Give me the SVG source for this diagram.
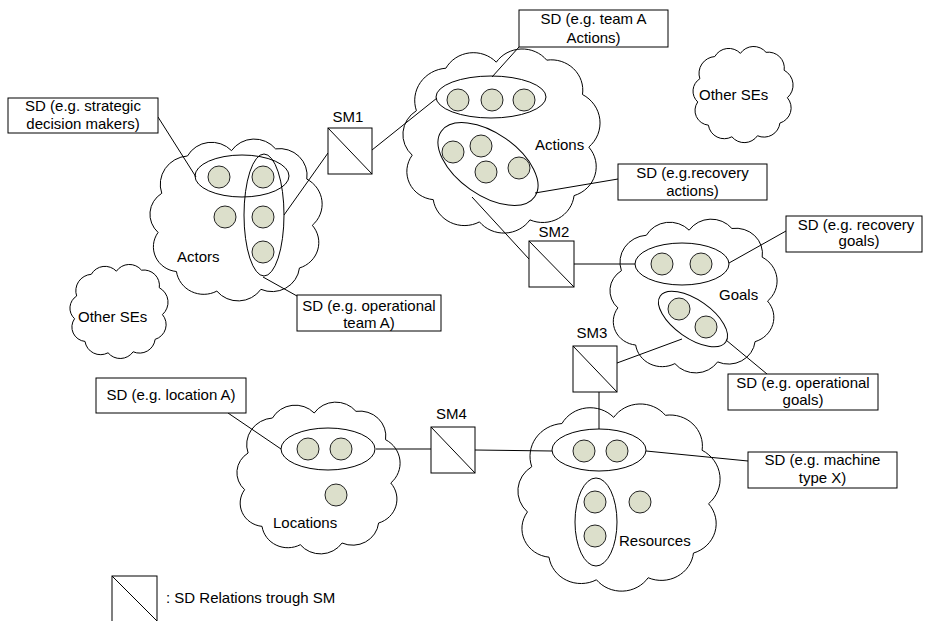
<svg xmlns="http://www.w3.org/2000/svg" width="927" height="621" viewBox="0 0 927 621">
<style>
.c{fill:#fff;stroke:#000;stroke-width:1}
.e{fill:none;stroke:#000;stroke-width:1}
.d{fill:#dcdfcb;stroke:#222;stroke-width:1}
.b{fill:#fff;stroke:#000;stroke-width:1}
.ln{stroke:#000;stroke-width:1;fill:none}
text{font-family:"Liberation Sans",Arial,sans-serif;font-size:15px;fill:#000}
.m{text-anchor:middle}
</style>

<g id="actors">
<path class="c" vector-effect="non-scaling-stroke" transform="translate(143.4,129.3) scale(1.836,1.778)" d="M10,36 A16,16 0 0 1 24,15 A15,15 0 0 1 48,12 A15,15 0 0 1 72,11 A15,15 0 0 1 89,28 A16,16 0 0 1 92,54 A15,15 0 0 1 85,78 A15,15 0 0 1 64,90 A15,15 0 0 1 40,91 A15,15 0 0 1 18,80 A14,14 0 0 1 8,58 A14,14 0 0 1 10,36 Z"/>
<ellipse class="e" cx="242" cy="176" rx="47" ry="21"/>
<ellipse class="e" cx="264" cy="215" rx="20" ry="61"/>
<circle class="d" cx="219" cy="177" r="11"/>
<circle class="d" cx="263" cy="177" r="11"/>
<circle class="d" cx="225" cy="217" r="11"/>
<circle class="d" cx="263" cy="217" r="11"/>
<circle class="d" cx="263" cy="252" r="11"/>
<text x="177" y="262">Actors</text>
</g>

<g id="actions">
<path class="c" vector-effect="non-scaling-stroke" transform="translate(395.4,37.9) scale(2.102,2.022)" d="M10,36 A16,16 0 0 1 24,15 A15,15 0 0 1 48,12 A15,15 0 0 1 72,11 A15,15 0 0 1 89,28 A16,16 0 0 1 92,54 A15,15 0 0 1 85,78 A15,15 0 0 1 64,90 A15,15 0 0 1 40,91 A15,15 0 0 1 18,80 A14,14 0 0 1 8,58 A14,14 0 0 1 10,36 Z"/>
<ellipse class="e" cx="491" cy="97" rx="55" ry="21"/>
<ellipse class="e" cx="488" cy="164" rx="57" ry="31" transform="rotate(35 488 164)"/>
<circle class="d" cx="458" cy="100" r="11"/>
<circle class="d" cx="492" cy="100" r="11"/>
<circle class="d" cx="524" cy="100" r="11"/>
<circle class="d" cx="453" cy="152" r="11"/>
<circle class="d" cx="481" cy="146" r="11"/>
<circle class="d" cx="486" cy="172" r="11"/>
<circle class="d" cx="519" cy="168" r="11"/>
<text x="535" y="150">Actions</text>
</g>

<g id="goals">
<path class="c" vector-effect="non-scaling-stroke" transform="translate(603.6,209.9) scale(1.782,1.689)" d="M10,36 A16,16 0 0 1 24,15 A15,15 0 0 1 48,12 A15,15 0 0 1 72,11 A15,15 0 0 1 89,28 A16,16 0 0 1 92,54 A15,15 0 0 1 85,78 A15,15 0 0 1 64,90 A15,15 0 0 1 40,91 A15,15 0 0 1 18,80 A14,14 0 0 1 8,58 A14,14 0 0 1 10,36 Z"/>
<ellipse class="e" cx="682" cy="264" rx="47" ry="21"/>
<ellipse class="e" cx="693" cy="319" rx="40" ry="19" transform="rotate(35 693 319)"/>
<circle class="d" cx="662" cy="264" r="11"/>
<circle class="d" cx="701" cy="264" r="11"/>
<circle class="d" cx="679" cy="309" r="11"/>
<circle class="d" cx="706" cy="327" r="11"/>
<text x="719" y="300">Goals</text>
</g>

<g id="resources">
<path class="c" vector-effect="non-scaling-stroke" transform="translate(510.2,392.7) scale(2.156,2.056)" d="M10,36 A16,16 0 0 1 24,15 A15,15 0 0 1 48,12 A15,15 0 0 1 72,11 A15,15 0 0 1 89,28 A16,16 0 0 1 92,54 A15,15 0 0 1 85,78 A15,15 0 0 1 64,90 A15,15 0 0 1 40,91 A15,15 0 0 1 18,80 A14,14 0 0 1 8,58 A14,14 0 0 1 10,36 Z"/>
<ellipse class="e" cx="599" cy="450" rx="47" ry="21"/>
<ellipse class="e" cx="596" cy="522" rx="21" ry="44"/>
<circle class="d" cx="584" cy="451" r="11"/>
<circle class="d" cx="617" cy="451" r="11"/>
<circle class="d" cx="595" cy="502" r="11"/>
<circle class="d" cx="595" cy="536" r="11"/>
<circle class="d" cx="640" cy="502" r="11"/>
<text x="619" y="546">Resources</text>
</g>

<g id="locations">
<path class="c" vector-effect="non-scaling-stroke" transform="translate(230.7,393) scale(1.740,1.667)" d="M10,36 A16,16 0 0 1 24,15 A15,15 0 0 1 48,12 A15,15 0 0 1 72,11 A15,15 0 0 1 89,28 A16,16 0 0 1 92,54 A15,15 0 0 1 85,78 A15,15 0 0 1 64,90 A15,15 0 0 1 40,91 A15,15 0 0 1 18,80 A14,14 0 0 1 8,58 A14,14 0 0 1 10,36 Z"/>
<ellipse class="e" cx="328" cy="449" rx="47" ry="21"/>
<circle class="d" cx="308" cy="449" r="11"/>
<circle class="d" cx="341" cy="449" r="11"/>
<circle class="d" cx="336" cy="495" r="11"/>
<text x="273" y="528">Locations</text>
</g>

<g id="other-ses-top">
<path class="c" vector-effect="non-scaling-stroke" transform="translate(689.2,40.7) scale(1.067,1.056)" d="M10,36 A16,16 0 0 1 24,15 A15,15 0 0 1 48,12 A15,15 0 0 1 72,11 A15,15 0 0 1 89,28 A16,16 0 0 1 92,54 A15,15 0 0 1 85,78 A15,15 0 0 1 64,90 A15,15 0 0 1 40,91 A15,15 0 0 1 18,80 A14,14 0 0 1 8,58 A14,14 0 0 1 10,36 Z"/>
<text x="699" y="100">Other SEs</text>
</g>

<g id="other-ses-left">
<path class="c" vector-effect="non-scaling-stroke" transform="translate(66.2,258.8) scale(1.046,1.033)" d="M10,36 A16,16 0 0 1 24,15 A15,15 0 0 1 48,12 A15,15 0 0 1 72,11 A15,15 0 0 1 89,28 A16,16 0 0 1 92,54 A15,15 0 0 1 85,78 A15,15 0 0 1 64,90 A15,15 0 0 1 40,91 A15,15 0 0 1 18,80 A14,14 0 0 1 8,58 A14,14 0 0 1 10,36 Z"/>
<text x="78" y="322">Other SEs</text>
</g>

<g id="connectors" class="ln">
<line x1="158" y1="117" x2="196" y2="177"/>
<line x1="284" y1="215" x2="328" y2="153"/>
<line x1="372" y1="150" x2="437" y2="98"/>
<line x1="519" y1="47" x2="492" y2="77"/>
<line x1="618" y1="179" x2="535" y2="193"/>
<line x1="472" y1="197" x2="529" y2="259"/>
<line x1="574" y1="264" x2="635" y2="264"/>
<line x1="729" y1="263" x2="786" y2="231"/>
<line x1="767" y1="374" x2="726" y2="340"/>
<line x1="617" y1="363" x2="682" y2="339"/>
<line x1="599" y1="392" x2="599" y2="429"/>
<line x1="475" y1="450" x2="552" y2="451"/>
<line x1="646" y1="451" x2="748" y2="461"/>
<line x1="228" y1="413" x2="281" y2="449"/>
<line x1="376" y1="449" x2="431" y2="449"/>
<line x1="263" y1="277" x2="297" y2="296"/>
</g>

<g id="sm1">
<rect class="b" x="328" y="128" width="44" height="46"/>
<line class="ln" x1="328" y1="128" x2="372" y2="174"/>
<text class="m" x="348" y="122">SM1</text>
</g>
<g id="sm2">
<rect class="b" x="529" y="241" width="45" height="46"/>
<line class="ln" x1="529" y1="241" x2="574" y2="287"/>
<text class="m" x="554" y="237">SM2</text>
</g>
<g id="sm3">
<rect class="b" x="573" y="346" width="44" height="46"/>
<line class="ln" x1="573" y1="346" x2="617" y2="392"/>
<text class="m" x="592" y="338">SM3</text>
</g>
<g id="sm4">
<rect class="b" x="431" y="427" width="44" height="46"/>
<line class="ln" x1="431" y1="427" x2="475" y2="473"/>
<text class="m" x="451.5" y="419">SM4</text>
</g>

<g id="sd-strategic">
<rect class="b" x="8" y="98" width="150" height="35"/>
<text class="m" x="83" y="111">SD (e.g. strategic</text>
<text class="m" x="83" y="129">decision makers)</text>
</g>
<g id="sd-team-a-actions">
<rect class="b" x="519" y="10" width="149" height="37"/>
<text class="m" x="593.5" y="24">SD (e.g. team A</text>
<text class="m" x="593.5" y="43">Actions)</text>
</g>
<g id="sd-recovery-actions">
<rect class="b" x="618" y="164" width="149" height="36"/>
<text class="m" x="692.5" y="177.5">SD (e.g.recovery</text>
<text class="m" x="692.5" y="196">actions)</text>
</g>
<g id="sd-recovery-goals">
<rect class="b" x="786" y="216" width="136" height="36"/>
<text class="m" x="856" y="230">SD (e.g. recovery</text>
<text class="m" x="859" y="246">goals)</text>
</g>
<g id="sd-operational-goals">
<rect class="b" x="728" y="374" width="150" height="36"/>
<text class="m" x="803" y="388">SD (e.g. operational</text>
<text class="m" x="803" y="405">goals)</text>
</g>
<g id="sd-operational-team">
<rect class="b" x="297" y="295" width="144" height="36"/>
<text class="m" x="369" y="311">SD (e.g. operational</text>
<text class="m" x="369" y="328">team A)</text>
</g>
<g id="sd-location">
<rect class="b" x="96" y="378" width="150" height="35"/>
<text class="m" x="171" y="400">SD (e.g. location A)</text>
</g>
<g id="sd-machine">
<rect class="b" x="748" y="452" width="149" height="36"/>
<text class="m" x="822.5" y="465">SD (e.g. machine</text>
<text class="m" x="822.5" y="483">type X)</text>
</g>

<g id="legend">
<rect class="b" x="112" y="576" width="45" height="46"/>
<line class="ln" x1="112" y1="576" x2="157" y2="621"/>
<text x="166" y="603">: SD Relations trough SM</text>
</g>
</svg>
